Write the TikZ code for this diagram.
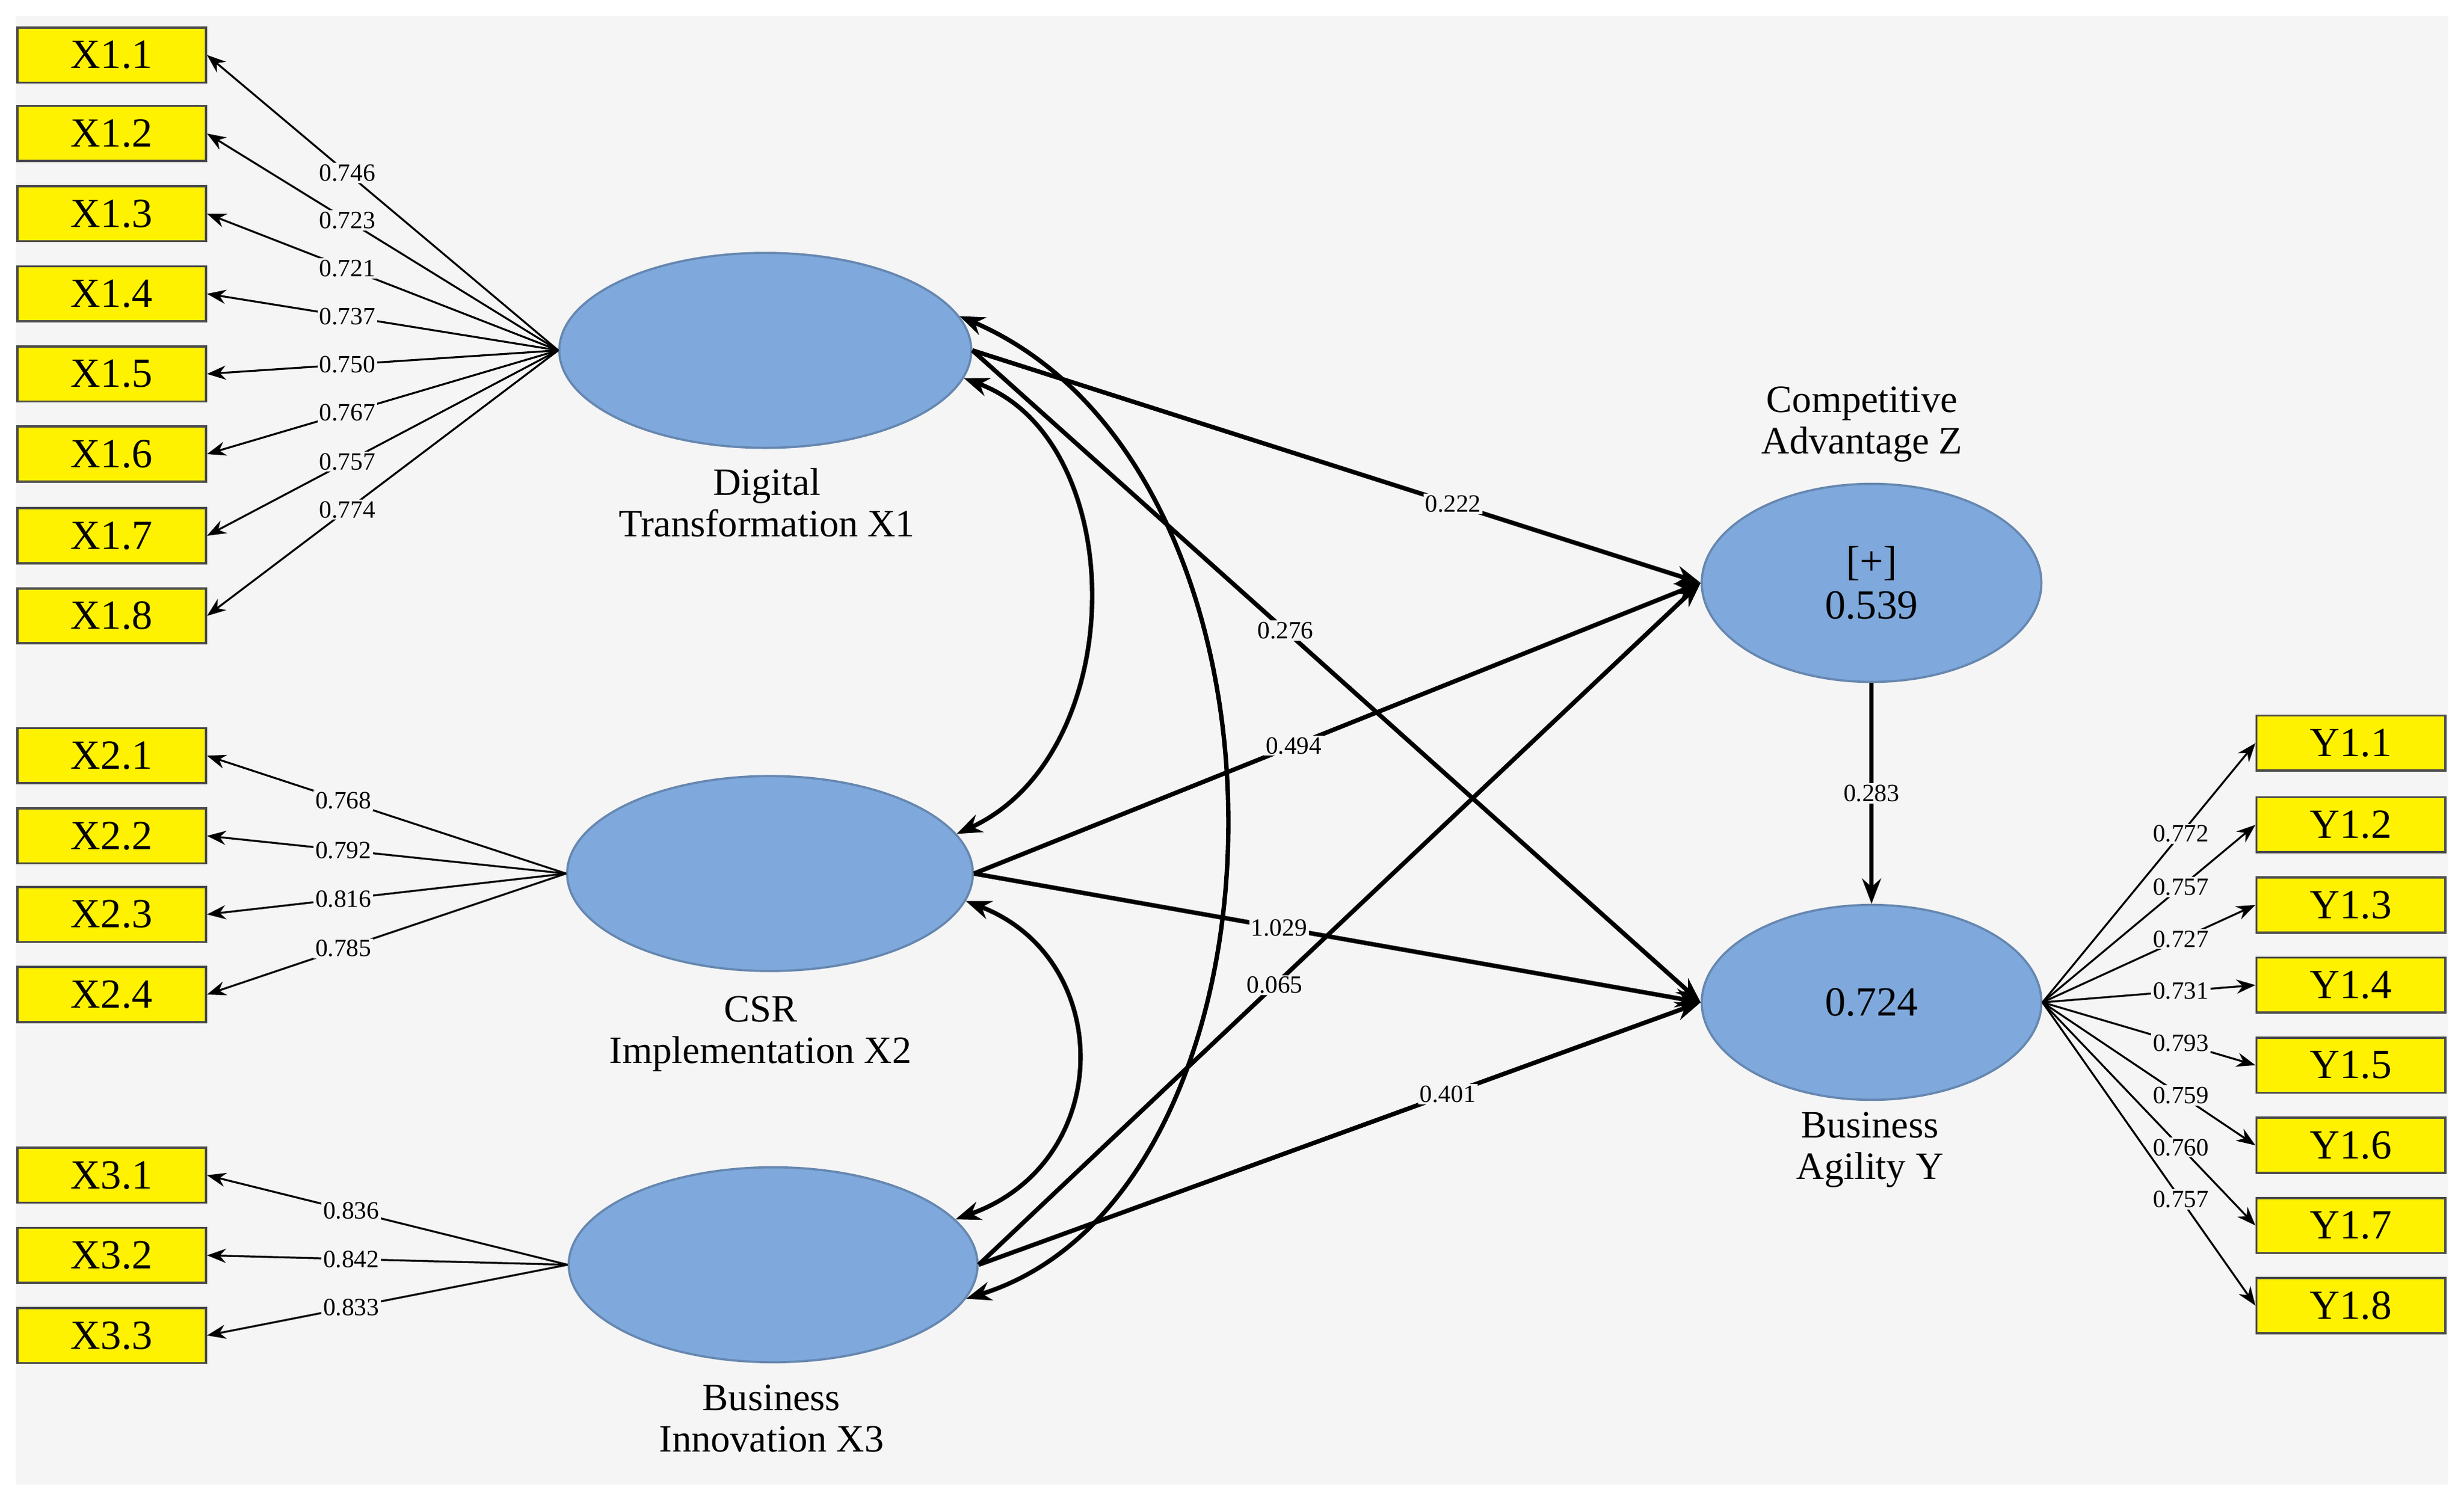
\documentclass[tikz,border=0pt]{standalone}
\usepackage{fontspec}
\setmainfont{Liberation Serif}
\usetikzlibrary{shapes.geometric,arrows.meta}
\definecolor{bgcol}{RGB}{245,245,245}
\definecolor{lvcol}{RGB}{127,169,220}
\tikzset{
  ind/.style={draw=black!70,fill=yellow,minimum width=1.2cm,minimum height=0.35cm,inner sep=0pt,font=\fontsize{7.5}{8}\selectfont},
  lv/.style={ellipse,draw=lvcol!80!black,fill=lvcol,inner sep=0pt,font=\fontsize{7.5}{8}\selectfont},
  lvname/.style={align=center,font=\fontsize{7}{7.5}\selectfont},
  ld/.style={-{Stealth[length=1.2mm,width=0.9mm]},line width=0.35pt},
  pth/.style={-{Stealth[length=1.6mm,width=1.2mm]},line width=0.8pt},
  cov/.style={{Stealth[length=1.6mm,width=1.2mm]}-{Stealth[length=1.6mm,width=1.2mm]},line width=0.8pt},
  wt/.style={fill=bgcol,inner sep=0.3pt,font=\fontsize{4.5}{5}\selectfont},
}
\begin{document}
\begin{tikzpicture}[x=0.01cm,y=-0.01cm]
			\useasboundingbox (0,0) rectangle (1568,954);
			\fill[bgcol] (10,10) rectangle (1558,945);
			
			% latent variables
			\node[lv,minimum width=2.62cm,minimum height=1.24cm] (dt) at (487,223) {};
			\node[lv,minimum width=2.58cm,minimum height=1.24cm] (csr) at (490,556) {};
			\node[lv,minimum width=2.6cm,minimum height=1.24cm] (bi) at (492,805) {};
			\node[lv,minimum width=2.16cm,minimum height=1.26cm,align=center] (ca) at (1191,371) {[+]\\0.539};
			\node[lv,minimum width=2.16cm,minimum height=1.24cm] (ba) at (1191,638) {0.724};
			
			\node[lvname] (dtname) at (488,320) {Digital\\Transformation X1};
			\node[lvname] (csrname) at (484,658) {CSR\\Implementation X2};
			\node[lvname] (biname) at (491,903) {Business\\Innovation X3};
			\node[lvname] (caname) at (1185,270) {Competitive\\Advantage Z};
			\node[lvname] (baname) at (1190,732) {Business\\Agility Y};
			
			% indicators
			\foreach \i/\yy/\w in {1/35/0.746,2/85/0.723,3/136/0.721,4/187/0.737,5/238/0.750,6/289/0.767,7/341/0.757,8/392/0.774}{
				\node[ind] (x1\i) at (71,\yy) {X1.\i};
				\draw[ld] (dt.west) -- (x1\i.east) node[wt,pos=0.6] {\w};
			}
			\foreach \i/\yy/\w in {1/481/0.768,2/532/0.792,3/582/0.816,4/633/0.785}{
				\node[ind] (x2\i) at (71,\yy) {X2.\i};
				\draw[ld] (csr.west) -- (x2\i.east) node[wt,pos=0.62] {\w};
			}
			\foreach \i/\yy/\w in {1/748/0.836,2/799/0.842,3/850/0.833}{
				\node[ind] (x3\i) at (71,\yy) {X3.\i};
				\draw[ld] (bi.west) -- (x3\i.east) node[wt,pos=0.6] {\w};
			}
			\foreach \i/\yy/\w in {1/473/0.772,2/525/0.757,3/576/0.727,4/627/0.731,5/678/0.793,6/729/0.759,7/780/0.760,8/831/0.757}{
				\node[ind] (y\i) at (1496,\yy) {Y1.\i};
				\draw[ld] (ba.east) -- (y\i.west) node[wt,pos=0.65] {\w};
			}
			
			% structural paths
			\draw[pth] (dt.east) -- (ca.west) node[wt,pos=0.66] {0.222};
			\draw[pth] (dt.east) -- (ba.west) node[wt,pos=0.43] {0.276};
			\draw[pth] (csr.east) -- (ca.west) node[wt,pos=0.44] {0.494};
			\draw[pth] (csr.east) -- (ba.west) node[wt,pos=0.42] {1.029};
			\draw[pth] (bi.east) -- (ca.west) node[wt,pos=0.41] {0.065};
			\draw[pth] (bi.east) -- (ba.west) node[wt,pos=0.65] {0.401};
			\draw[pth] (ca) -- (ba) node[wt,midway] {0.283};
			
			% correlations
			\draw[cov] (dt.-8) .. controls (720,280) and (720,480) .. (csr.12);
			\draw[cov] (csr.-8) .. controls (710,610) and (710,740) .. (bi.14);
			\draw[cov] (dt.10) .. controls (840,300) and (830,760) .. (bi.-10);
		\end{tikzpicture}
\end{document}
